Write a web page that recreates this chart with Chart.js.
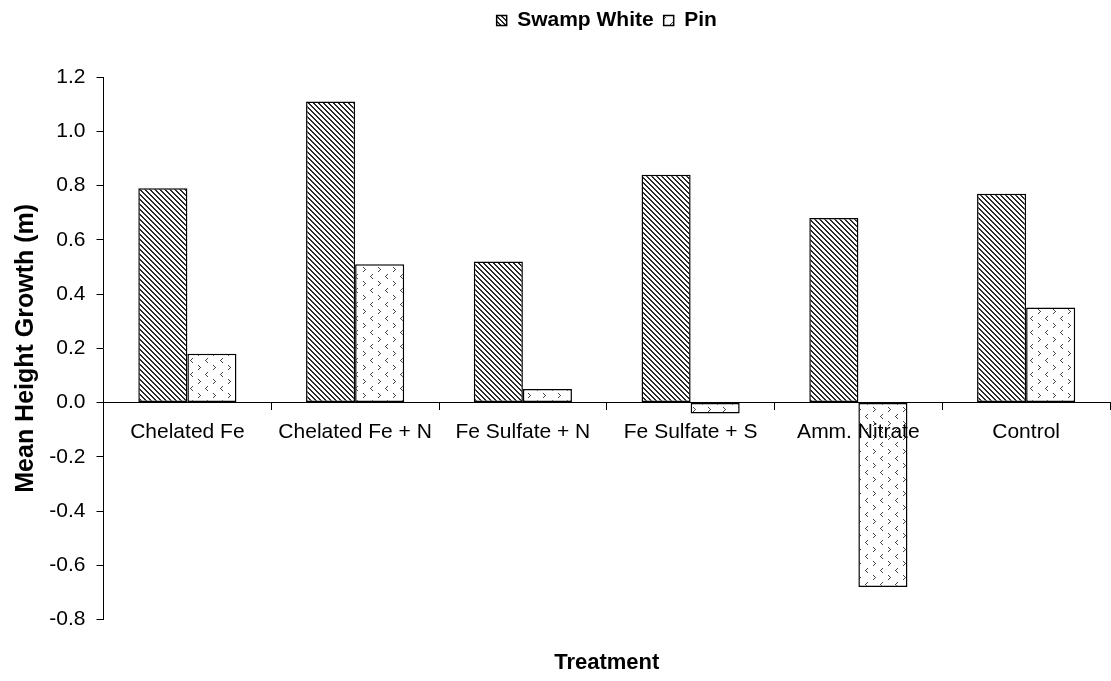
<!DOCTYPE html>
<html>
<head>
<meta charset="utf-8">
<title>Mean Height Growth by Treatment</title>
<script src="https://cdn.jsdelivr.net/npm/chart.js@4/dist/chart.umd.min.js"></script>
<style>
    html, body { margin: 0; padding: 0; background: #fff; }
    #wrap { width: 1111px; height: 681px; position: relative; }
</style>
</head>
<body>
<div id="wrap"><canvas id="mainChart"></canvas></div>
<script>
// Chart data
const treatments = ['Chelated Fe', 'Chelated Fe + N', 'Fe Sulfate + N', 'Fe Sulfate + S', 'Amm. Nitrate', 'Control'];
const swampWhite = [0.79, 1.11, 0.52, 0.84, 0.68, 0.77];
const pin = [0.18, 0.51, 0.05, -0.04, -0.68, 0.35];
const seriesNames = ['Swamp White', 'Pin'];

const FONT = "'Liberation Sans', Arial, sans-serif";

// backslash hatch for Swamp White
function makeHatch() {
    const c = document.createElement('canvas');
    c.width = 5;
    c.height = 5;
    const g = c.getContext('2d');
    g.fillStyle = '#fff';
    g.fillRect(0, 0, 5, 5);
    g.fillStyle = '#2a2a2a';
    for (let i = 0; i < 5; i++) {
        g.fillRect(i, i, 1, 1);
        g.fillRect((i + 1) % 5, i, 1, 1);
    }
    return g.createPattern(c, 'repeat');
}

// little < > marks for Pin
function makeChevrons() {
    const c = document.createElement('canvas');
    c.width = 15;
    c.height = 14;
    const g = c.getContext('2d');
    g.fillStyle = '#fff';
    g.fillRect(0, 0, 15, 14);
    g.fillStyle = '#444';
    // ">"
    [[0, 0], [1, 1], [2, 2], [1, 3], [0, 4]].forEach(p => g.fillRect(3 + p[0], 1 + p[1], 1, 1));
    // "<"
    [[2, 0], [1, 1], [0, 2], [1, 3], [2, 4]].forEach(p => g.fillRect(10 + p[0], 8 + p[1], 1, 1));
    return g.createPattern(c, 'repeat');
}

// push the plot down below the legend
const legendGap = {
    id: 'legendGap',
    beforeLayout(chart) {
        const legend = chart.legend;
        if (!legend || legend._gapPatched) return;
        const fit = legend.fit;
        legend.fit = function () {
            fit.call(this);
            this.height = 77;
        };
        legend._gapPatched = true;
    }
};

const ctx = document.getElementById('mainChart');

new Chart(ctx, {
    type: 'bar',
    data: {
        labels: treatments,
        datasets: [
            {
                label: seriesNames[0],
                data: swampWhite,
                backgroundColor: makeHatch(),
                borderColor: '#000',
                borderWidth: 1.5,
                borderSkipped: false
            },
            {
                label: seriesNames[1],
                data: pin,
                backgroundColor: makeChevrons(),
                borderColor: '#000',
                borderWidth: 1.5,
                borderSkipped: false
            }
        ]
    },
    options: {
        responsive: true,
        maintainAspectRatio: false,
        animation: false,
        layout: {
            padding: { left: 0, right: 1, top: 0, bottom: 0 }
        },
        datasets: {
            bar: {
                categoryPercentage: 0.585,
                barPercentage: 1
            }
        },
        plugins: {
            legend: {
                display: true,
                position: 'top',
                fullSize: false,
                labels: {
                    boxWidth: 10,
                    boxHeight: 10,
                    padding: 10,
                    color: '#000',
                    font: { family: FONT, size: 21, weight: 'bold' }
                }
            },
            title: {
                display: true,
                position: 'bottom',
                fullSize: false,
                text: 'Treatment',
                color: '#000',
                padding: { top: 30, bottom: 5 },
                font: { family: FONT, size: 22, weight: 'bold' }
            },
            tooltip: { enabled: false }
        },
        scales: {
            x: {
                position: { y: 0 },
                grid: {
                    drawOnChartArea: false,
                    drawTicks: true,
                    tickLength: 7,
                    color: '#000',
                    z: 1
                },
                border: { color: '#000', width: 1, z: 1 },
                ticks: {
                    z: 1,
                    color: '#000',
                    padding: 10,
                    maxRotation: 0,
                    autoSkip: false,
                    font: { family: FONT, size: 21 }
                }
            },
            y: {
                min: -0.8,
                max: 1.2,
                afterFit(scale) {
                    scale.width = 103.5;
                },
                grid: {
                    drawOnChartArea: false,
                    drawTicks: true,
                    tickLength: 7,
                    color: '#000'
                },
                border: { color: '#000', width: 1 },
                ticks: {
                    stepSize: 0.2,
                    color: '#000',
                    padding: 11,
                    font: { family: FONT, size: 21 },
                    callback: v => (Math.abs(v) < 1e-9 ? '0.0' : v.toFixed(1))
                },
                title: {
                    display: true,
                    text: 'Mean Height Growth (m)',
                    color: '#000',
                    padding: { top: 11, bottom: 0 },
                    font: { family: FONT, size: 25, weight: 'bold' }
                }
            }
        }
    },
    plugins: [legendGap]
});
</script>
</body>
</html>
